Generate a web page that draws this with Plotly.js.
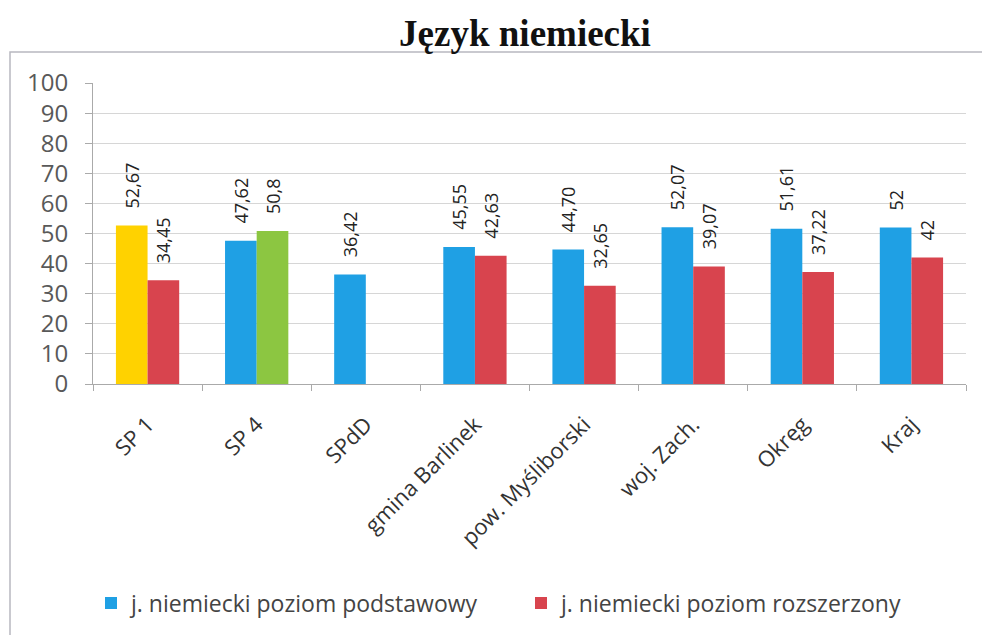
<!DOCTYPE html>
<html><head><meta charset="utf-8">
<script src="https://cdn.plot.ly/plotly-3.0.1.min.js"></script>
<style>html,body{margin:0;padding:0;background:#fff}#chart{width:982px;height:635px}</style>
</head><body><div id="chart"></div>
<script>
const categories = ["SP 1", "SP 4", "SPdD", "gmina Barlinek", "pow. Myśliborski", "woj. Zach.", "Okręg", "Kraj"];
const basicValues = [52.67, 47.62, 36.42, 45.55, 44.70, 52.07, 51.61, 52];
const basicLabels = ["52,67", "47,62", "36,42", "45,55", "44,70", "52,07", "51,61", "52"];
const extValues = [34.45, 50.8, null, 42.63, 32.65, 39.07, 37.22, 42];
const extLabels = ["34,45", "50,8", "", "42,63", "32,65", "39,07", "37,22", "42"];
const seriesNames = ["j. niemiecki poziom podstawowy", "j. niemiecki poziom rozszerzony"];
const yTicks = [0, 10, 20, 30, 40, 50, 60, 70, 80, 90, 100];

const BLUE = "#1fa0e4", RED = "#d8444e", YELLOW = "#ffd200", GREEN = "#8cc641";
const blueColors = categories.map((c, i) => i === 0 ? YELLOW : BLUE);
const redColors = categories.map((c, i) => i === 1 ? GREEN : RED);

const W = 982, H = 635, L = 93, R = 16, T = 83, B = 251;
const pw = W - L - R, ph = H - T - B;
const px = x => (x - L) / pw;
const py = y => (H - B - y) / ph;

const FONT = "'Open Sans', Lato, sans-serif";
const labelFont = {family: FONT, size: 18, color: "#222"};
const pad = s => s ? "\u00a0\u00a0\u00a0" + s : "";

const traces = [
  {type: "bar", name: seriesNames[0], x: categories, y: basicValues, offsetgroup: "a",
   text: basicLabels.map(pad), textposition: "outside", textangle: -90,
   textfont: labelFont, constraintext: "none", cliponaxis: false,
   marker: {color: blueColors}, showlegend: false},
  {type: "bar", name: seriesNames[1], x: categories, y: extValues, offsetgroup: "b",
   text: extLabels.map(pad), textposition: "outside", textangle: -90,
   textfont: labelFont, constraintext: "none", cliponaxis: false,
   marker: {color: redColors}, showlegend: false},
  // legend entries (no data drawn; share offset groups so bars keep their positions)
  {type: "bar", name: seriesNames[0], x: [categories[0]], y: [null], offsetgroup: "a",
   marker: {color: BLUE}, showlegend: true},
  {type: "bar", name: seriesNames[1], x: [categories[0]], y: [null], offsetgroup: "b",
   marker: {color: RED}, showlegend: true}
];

const layout = {
  width: W, height: H,
  margin: {l: L, r: R, t: T, b: B, pad: 0},
  paper_bgcolor: "#fff", plot_bgcolor: "#fff",
  title: {text: "<b>Język niemiecki</b>", font: {family: "'Liberation Serif', 'Times New Roman', serif", size: 37, color: "#111"},
          x: 525 / W, xref: "container", xanchor: "center", y: 1 - 33 / H, yref: "container", yanchor: "middle"},
  barmode: "group", bargap: 0.42, bargroupgap: 0,
  showlegend: true,
  legend: {orientation: "h", xref: "container", yref: "container", x: 521 / W, xanchor: "center", y: 1 - 603 / H, yanchor: "middle",
           font: {family: FONT, size: 23, color: "#444"},
           itemwidth: 30, traceorder: "normal", entrywidth: 385, entrywidthmode: "pixels"},
  xaxis: {type: "category", tickangle: -45, tickson: "boundaries", ticks: "outside", ticklen: 6,
          tickcolor: "#aaa", showline: true, linecolor: "#aaa", linewidth: 1,
          ticklabelstandoff: 18,
          tickfont: {family: FONT, size: 22, color: "#333"},
          showgrid: false, automargin: false},
  yaxis: {range: [0, 100], tickvals: yTicks, ticks: "outside", ticklen: 7, tickcolor: "#aaa",
          showline: true, linecolor: "#aaa", linewidth: 1,
          gridcolor: "#d6d6d6", gridwidth: 1, zeroline: false,
          ticklabelstandoff: 12,
          tickfont: {family: FONT, size: 24, color: "#595959"},
          automargin: false},
  shapes: [
    {type: "rect", xref: "paper", yref: "paper", x0: px(10), x1: px(1000), y0: py(660), y1: py(52),
     line: {color: "#b8b8c0", width: 1.5}, fillcolor: "rgba(0,0,0,0)", layer: "below"}
  ]
};

Plotly.newPlot("chart", traces, layout, {displayModeBar: false, staticPlot: true});
</script></body></html>
